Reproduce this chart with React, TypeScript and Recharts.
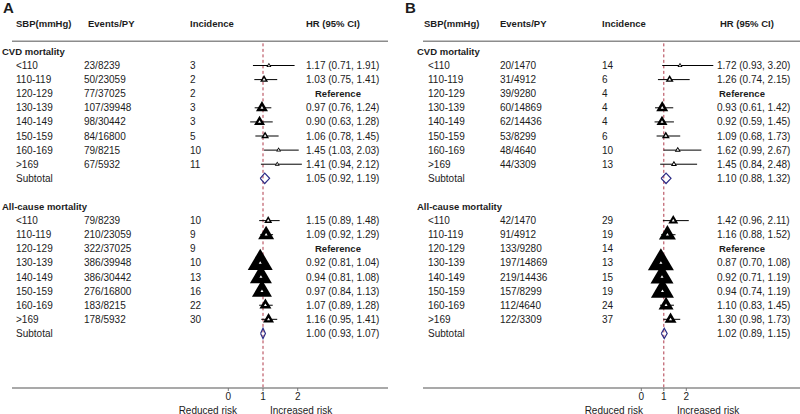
import React from 'react';
import { ScatterChart, Scatter, XAxis, YAxis, ReferenceLine, ErrorBar } from 'recharts';

const FONT = "'Liberation Sans', Arial, Helvetica, sans-serif";

// ---- shared categories ----
const sbpLabels = ['<110', '110-119', '120-129', '130-139', '140-149', '150-159', '160-169', '>169'];
const headers = ['SBP(mmHg)', 'Events/PY', 'Incidence', 'HR (95% CI)'];
const groupTitles = ['CVD mortality', 'All-cause mortality'];
const axisTicks = [0, 1, 2];

// ---- Panel A ----
const aCvdEvents = ['23/8239', '50/23059', '77/37025', '107/39948', '98/30442', '84/16800', '79/8215', '67/5932'];
const aCvdInc = [3, 2, 2, 3, 3, 5, 10, 11];
const aCvdHr = [1.17, 1.03, null, 0.97, 0.9, 1.06, 1.45, 1.41];
const aCvdLo = [0.71, 0.75, null, 0.76, 0.63, 0.78, 1.03, 0.94];
const aCvdHi = [1.91, 1.41, null, 1.24, 1.28, 1.45, 2.03, 2.12];
const aCvdWeight = [5, 8, 0, 12, 11, 8, 5, 5];
const aCvdSub = [1.05, 0.92, 1.19];

const aAllEvents = ['79/8239', '210/23059', '322/37025', '386/39948', '386/30442', '276/16800', '183/8215', '178/5932'];
const aAllInc = [10, 9, 9, 10, 13, 16, 22, 30];
const aAllHr = [1.15, 1.09, null, 0.92, 0.94, 0.97, 1.07, 1.16];
const aAllLo = [0.89, 0.92, null, 0.81, 0.81, 0.84, 0.89, 0.95];
const aAllHi = [1.48, 1.29, null, 1.04, 1.08, 1.13, 1.28, 1.41];
const aAllWeight = [8, 16, 0, 25, 22, 20, 12, 11];
const aAllSub = [1.0, 0.93, 1.07];

// ---- Panel B ----
const bCvdEvents = ['20/1470', '31/4912', '39/9280', '60/14869', '62/14436', '53/8299', '48/4640', '44/3309'];
const bCvdInc = [14, 6, 4, 4, 4, 6, 10, 13];
const bCvdHr = [1.72, 1.26, null, 0.93, 0.92, 1.09, 1.62, 1.45];
const bCvdLo = [0.93, 0.74, null, 0.61, 0.59, 0.68, 0.99, 0.84];
const bCvdHi = [3.2, 2.15, null, 1.42, 1.45, 1.73, 2.67, 2.48];
const bCvdWeight = [5, 8, 0, 12, 11, 8, 6, 6];
const bCvdSub = [1.1, 0.88, 1.32];

const bAllEvents = ['42/1470', '91/4912', '133/9280', '197/14869', '219/14436', '157/8299', '112/4640', '122/3309'];
const bAllInc = [29, 19, 14, 13, 15, 19, 24, 37];
const bAllHr = [1.42, 1.16, null, 0.87, 0.92, 0.94, 1.1, 1.3];
const bAllLo = [0.96, 0.88, null, 0.7, 0.71, 0.74, 0.83, 0.98];
const bAllHi = [2.11, 1.52, null, 1.08, 1.19, 1.19, 1.45, 1.73];
const bAllWeight = [10, 17, 0, 26, 23, 23, 15, 12];
const bAllSub = [1.02, 0.89, 1.15];

// ---- layout constants ----
const Y_TOP = -4.645;
const Y_BOTTOM = 22.87;
const HEADER_ROW = -3;
const LETTER_ROW = -4.08;
const RULE_ROW = -1.72;
const TEXT_COLOR = '#1c1c1c';

const fmt = (v: number) => v.toFixed(2);
const hrText = (h: number, l: number, u: number) => `${fmt(h)} (${fmt(l)}, ${fmt(u)})`;

type Group = {
  events: string[]; inc: number[]; hr: (number | null)[]; lo: (number | null)[]; hi: (number | null)[];
  weight: number[]; sub: number[];
};

type Cfg = {
  letter: string; ml: number; mr: number; domain: [number, number];
  cols: { title: number; sbp: number; hSbp: number; events: number; hEvents: number; inc: number; hInc: number; hr: number; hHr: number; ref: number; letter: number };
  reducedEnd: number; increasedStart: number;
  groups: Group[];
};

const panels: Cfg[] = [
  {
    letter: 'A', ml: 12, mr: 12, domain: [-6.233, 4.602],
    cols: { title: 2, sbp: 16, hSbp: 16, events: 84, hEvents: 88, inc: 190, hInc: 190, hr: 306, hHr: 306, ref: 315, letter: 3 },
    reducedEnd: 237, increasedStart: 270,
    groups: [
      { events: aCvdEvents, inc: aCvdInc, hr: aCvdHr, lo: aCvdLo, hi: aCvdHi, weight: aCvdWeight, sub: aCvdSub },
      { events: aAllEvents, inc: aAllInc, hr: aAllHr, lo: aAllLo, hi: aAllHi, weight: aAllWeight, sub: aAllSub },
    ],
  },
  {
    letter: 'B', ml: 23, mr: 0, domain: [-9.702, 7.053],
    cols: { title: 17, sbp: 28, hSbp: 24, events: 100, hEvents: 100, inc: 202, hInc: 202, hr: 317, hHr: 320, ref: 319, letter: 5 },
    reducedEnd: 243, increasedStart: 277,
    groups: [
      { events: bCvdEvents, inc: bCvdInc, hr: bCvdHr, lo: bCvdLo, hi: bCvdHi, weight: bCvdWeight, sub: bCvdSub },
      { events: bAllEvents, inc: bAllInc, hr: bAllHr, lo: bAllLo, hi: bAllHi, weight: bAllWeight, sub: bAllSub },
    ],
  },
];

// group row offsets: title row, then 8 rows, then subtotal
const groupStart = [-1, 10];

type TextItem = { x: number; text: string; bold?: boolean; size?: number };

function buildRows(cfg: Cfg) {
  const rows: { x: number; y: number; items: TextItem[] }[] = [];
  const c = cfg.cols;
  rows.push({ x: 1, y: LETTER_ROW, items: [{ x: c.letter, text: cfg.letter, bold: true, size: 15 }] });
  rows.push({
    x: 1, y: HEADER_ROW, items: [
      { x: c.hSbp, text: headers[0], bold: true, size: 9.5 },
      { x: c.hEvents, text: headers[1], bold: true, size: 9.5 },
      { x: c.hInc, text: headers[2], bold: true, size: 9.5 },
      { x: c.hHr, text: headers[3], bold: true, size: 9.5 },
    ],
  });
  cfg.groups.forEach((g, gi) => {
    const base = groupStart[gi];
    rows.push({ x: 1, y: base, items: [{ x: c.title, text: groupTitles[gi], bold: true, size: 9.5 }] });
    sbpLabels.forEach((lab, i) => {
      const h = g.hr[i], l = g.lo[i], u = g.hi[i];
      rows.push({
        x: 1, y: base + 1 + i, items: [
          { x: c.sbp, text: lab },
          { x: c.events, text: g.events[i] },
          { x: c.inc, text: String(g.inc[i]) },
          h == null ? { x: c.ref, text: 'Reference', bold: true, size: 9.5 } : { x: c.hr, text: hrText(h, l as number, u as number) },
        ],
      });
    });
    rows.push({
      x: 1, y: base + 9, items: [
        { x: c.sbp, text: 'Subtotal' },
        { x: c.hr, text: hrText(g.sub[0], g.sub[1], g.sub[2]) },
      ],
    });
  });
  return rows;
}

function buildMarkers(cfg: Cfg) {
  const pts: any[] = [];
  cfg.groups.forEach((g, gi) => {
    const base = groupStart[gi];
    g.hr.forEach((h, i) => {
      if (h == null) return;
      const l = g.lo[i] as number, u = g.hi[i] as number;
      pts.push({ x: h, y: base + 1 + i, err: [h - l, u - h], w: g.weight[i] });
    });
  });
  return pts;
}

const DIAMOND_HALF = 0.37;
function buildDiamond(g: Group, row: number) {
  const [h, l, u] = g.sub;
  return [
    { x: l, y: row },
    { x: h, y: row - DIAMOND_HALF },
    { x: u, y: row },
    { x: h, y: row + DIAMOND_HALF },
    { x: l, y: row },
  ];
}

const TextShape = (props: any) => {
  const { cy, payload } = props;
  return (
    <g>
      {payload.items.map((it: TextItem, i: number) => (
        <text key={i} x={it.x} y={cy} dy="0.35em" fontFamily={FONT} fontSize={it.size || 10}
          fontWeight={it.bold ? 'bold' : 'normal'} fill={TEXT_COLOR}>{it.text}</text>
      ))}
    </g>
  );
};

const TriShape = (props: any) => {
  const { cx, cy, payload } = props;
  const w = Math.max(5, payload.w);
  const h = w * 0.85;
  const top = cy - (2 * h) / 3;
  const bot = cy + h / 3;
  const wi = Math.min(3, w * 0.45);
  const hi = wi * 0.85;
  const ti = cy - (2 * hi) / 3;
  const bi = cy + hi / 3;
  return (
    <g>
      <polygon points={`${cx},${top} ${cx + w / 2},${bot} ${cx - w / 2},${bot}`} fill="#000" />
      <polygon points={`${cx},${ti} ${cx + wi / 2},${bi} ${cx - wi / 2},${bi}`} fill="#fff" />
    </g>
  );
};

const NoShape = () => <g />;

const BottomLabels = ({ cfg }: { cfg: Cfg }) => (
  <g>
    <text x={cfg.reducedEnd} y={410} dy="0.35em" textAnchor="end" fontFamily={FONT} fontSize={10} fill={TEXT_COLOR}>Reduced risk</text>
    <text x={cfg.increasedStart} y={410} dy="0.35em" textAnchor="start" fontFamily={FONT} fontSize={10} fill={TEXT_COLOR}>Increased risk</text>
  </g>
);

function Panel({ cfg }: { cfg: Cfg }) {
  const rows = buildRows(cfg);
  const markers = buildMarkers(cfg);
  const d1 = buildDiamond(cfg.groups[0], groupStart[0] + 9);
  const d2 = buildDiamond(cfg.groups[1], groupStart[1] + 9);
  return (
    <ScatterChart width={400} height={414} margin={{ top: 0, right: cfg.mr, bottom: 0, left: cfg.ml }}>
      <XAxis type="number" dataKey="x" domain={cfg.domain} ticks={axisTicks} height={26}
        axisLine={{ stroke: '#8c8c8c', strokeWidth: 1.5 }} tickLine={{ stroke: '#777' }} tickSize={3}
        tick={{ fontSize: 10, fill: TEXT_COLOR, fontFamily: FONT }} interval={0}
        label={<BottomLabels cfg={cfg} />} />
      <YAxis type="number" dataKey="y" domain={[Y_TOP, Y_BOTTOM]} reversed hide />
      <ReferenceLine y={RULE_ROW} stroke="#8c8c8c" strokeWidth={1.5} />
      <ReferenceLine segment={[{ x: 1, y: RULE_ROW + 0.15 }, { x: 1, y: Y_BOTTOM }]} stroke="#b03a4a" strokeWidth={1} strokeDasharray="3 2.5" />
      <Scatter data={rows} shape={TextShape} isAnimationActive={false} />
      <Scatter data={d1} shape={NoShape} line={{ stroke: '#2c2c86', strokeWidth: 1.2 }} lineJointType="linear" fill="none" isAnimationActive={false} />
      <Scatter data={d2} shape={NoShape} line={{ stroke: '#2c2c86', strokeWidth: 1.2 }} lineJointType="linear" fill="none" isAnimationActive={false} />
      <Scatter data={markers} shape={TriShape} isAnimationActive={false}>
        <ErrorBar dataKey="err" direction="x" width={0} stroke="#000" strokeWidth={1} />
      </Scatter>
    </ScatterChart>
  );
}

export default function App() {
  return (
    <div style={{ position: 'absolute', left: 0, top: 0, width: 800, height: 414, display: 'flex', background: '#fff' }}>
      {panels.map((p) => (
        <Panel key={p.letter} cfg={p} />
      ))}
    </div>
  );
}
